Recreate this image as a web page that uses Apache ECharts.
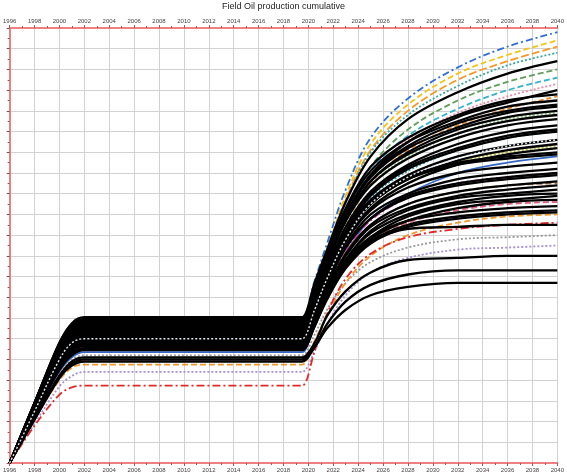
<!DOCTYPE html>
<html>
<head>
<meta charset="utf-8">
<script src="https://cdn.jsdelivr.net/npm/echarts@6/dist/echarts.min.js"></script>
<style>
  html, body { margin: 0; padding: 0; background: #ffffff; }
  #chart { width: 567px; height: 474px; }
</style>
</head>
<body>
<div id="chart"></div>
<script>
// Sample years shared by every realisation curve
const years = [1996, 1998, 2000, 2001, 2002, 2019, 2019.5, 2020.5, 2021.5, 2023, 2025, 2028, 2032, 2036, 2040];

// Coloured realisations (cumulative oil, arbitrary units)
const colouredRuns = [
  [0, 2.9, 5.8, 6.7, 7.0, 7.0, 7.0, 8.8, 10.6, 13.2, 15.7, 17.6, 19.1, 20.1, 20.8],
  [0, 2.9, 5.6, 6.5, 6.8, 6.8, 6.8, 8.6, 10.3, 12.9, 15.4, 17.3, 18.8, 19.7, 20.4],
  [0, 2.8, 5.5, 6.3, 6.6, 6.6, 6.6, 8.4, 10.1, 12.7, 15.1, 17.0, 18.5, 19.4, 20.1],
  [0, 2.8, 5.6, 6.4, 6.7, 6.7, 6.7, 8.4, 10.1, 12.6, 15.0, 16.8, 18.2, 19.2, 19.8],
  [0, 2.6, 5.2, 6.0, 6.3, 6.3, 6.3, 8.0, 9.6, 12.0, 14.3, 16.1, 17.5, 18.4, 19.0],
  [0, 2.7, 5.4, 6.2, 6.5, 6.5, 6.5, 8.0, 9.6, 11.8, 13.9, 15.6, 16.9, 17.7, 18.3],
  [0, 2.6, 5.1, 6.0, 6.2, 6.2, 6.2, 7.7, 9.2, 11.4, 13.5, 15.1, 16.3, 17.1, 17.7],
  [0, 2.5, 5.0, 5.8, 6.0, 6.0, 6.0, 7.6, 9.3, 11.5, 13.4, 14.8, 15.9, 16.6, 16.9],
  [0, 2.5, 4.9, 5.7, 5.9, 5.9, 5.9, 7.4, 8.9, 11.0, 12.8, 14.1, 15.1, 15.7, 16.0],
  [0, 2.3, 4.4, 5.1, 5.35, 5.35, 5.35, 6.8, 8.2, 10.1, 11.8, 13.0, 14.0, 14.5, 14.8],
  [0, 2.4, 4.8, 5.6, 5.8, 5.8, 5.8, 7.2, 8.7, 10.6, 12.3, 13.5, 14.5, 15.0, 15.3],
  [0, 2.4, 4.6, 5.4, 5.6, 5.6, 5.6, 6.7, 7.9, 9.5, 10.7, 11.6, 12.2, 12.5, 12.6],
  [0, 2.2, 4.3, 5.0, 5.2, 5.2, 5.2, 6.2, 7.4, 8.7, 9.7, 10.4, 10.8, 10.9, 11.0],
  [0, 1.9, 3.7, 4.2, 4.4, 4.4, 4.4, 5.4, 6.7, 8.1, 9.2, 9.9, 10.3, 10.4, 10.5],
  [0, 2.1, 4.0, 4.6, 4.75, 4.75, 4.75, 5.9, 7.1, 8.7, 10.0, 11.0, 11.6, 11.9, 12.0],
  [0, 1.8, 3.3, 3.65, 3.74, 3.74, 3.74, 5.4, 7.2, 8.9, 10.1, 10.9, 11.3, 11.5, 11.6],
  [0, 2.6, 5.1, 5.9, 6.1, 6.1, 6.1, 7.3, 8.5, 10.2, 11.5, 12.5, 13.1, 13.4, 13.5],
  [0, 2.3, 4.6, 5.3, 5.5, 5.5, 5.5, 6.9, 8.3, 10.2, 11.7, 12.8, 13.5, 13.8, 14.0],
  [0, 2.7, 5.3, 6.1, 6.4, 6.4, 6.4, 8.0, 9.6, 11.9, 14.1, 15.8, 17.1, 18.0, 18.6]
];

// Line colour and dash pattern of each coloured realisation
const colouredStyles = [
  { color: '#2f6fd6', type: [7, 3, 2, 3] },
  { color: '#f2c418', type: [6, 3] },
  { color: '#f39a2b', type: [8, 3] },
  { color: '#3aa8a0', type: [2, 2] },
  { color: '#5e9e5a', type: [6, 3] },
  { color: '#e58aa8', type: [2, 2] },
  { color: '#e8882e', type: [5, 3] },
  { color: '#8cc07a', type: [2, 2] },
  { color: '#2f98a8', type: [2, 2] },
  { color: '#3566c4', type: 'solid' },
  { color: '#bcbc38', type: [2, 2] },
  { color: '#e0607e', type: [6, 3] },
  { color: '#9a9a9a', type: [2, 2] },
  { color: '#a58fd0', type: [2, 2] },
  { color: '#f0982c', type: [6, 3] },
  { color: '#e02a2a', type: [8, 3, 2, 3] },
  { color: '#a6704a', type: [6, 3] },
  { color: '#c644b4', type: [7, 3, 2, 3] },
  { color: '#34b4cc', type: [6, 3] }
];

// Black realisations
const blackRuns = [
  [0, 2.9, 5.8, 6.75, 7.04, 7.04, 7.04, 8.7, 10.3, 12.6, 14.8, 16.6, 17.9, 18.8, 19.4],
  [0, 2.9, 5.8, 6.7, 6.95, 6.95, 6.95, 8.4, 9.8, 11.9, 13.9, 15.5, 16.7, 17.4, 18.0],
  [0, 2.9, 5.7, 6.6, 6.9, 6.9, 6.9, 8.5, 10.2, 12.3, 14.3, 15.7, 16.8, 17.5, 17.8],
  [0, 2.9, 5.7, 6.6, 6.85, 6.85, 6.85, 8.4, 10.0, 12.2, 14.1, 15.5, 16.5, 17.2, 17.5],
  [0, 2.9, 5.6, 6.5, 6.8, 6.8, 6.8, 8.4, 9.9, 12.0, 13.9, 15.3, 16.4, 17.0, 17.3],
  [0, 2.8, 5.5, 6.3, 6.6, 6.6, 6.6, 8.2, 9.8, 11.9, 13.8, 15.2, 16.2, 16.9, 17.2],
  [0, 2.8, 5.6, 6.4, 6.7, 6.7, 6.7, 8.2, 9.7, 11.7, 13.6, 14.9, 15.9, 16.5, 16.8],
  [0, 2.8, 5.6, 6.5, 6.75, 6.75, 6.75, 8.2, 9.7, 11.7, 13.4, 14.7, 15.7, 16.3, 16.6],
  [0, 2.7, 5.4, 6.2, 6.45, 6.45, 6.45, 7.9, 9.4, 11.4, 13.1, 14.4, 15.4, 16.0, 16.3],
  [0, 2.7, 5.3, 6.1, 6.4, 6.4, 6.4, 7.9, 9.3, 11.2, 13.0, 14.3, 15.2, 15.8, 16.1],
  [0, 2.6, 5.2, 6.0, 6.3, 6.3, 6.3, 7.8, 9.2, 11.1, 12.9, 14.2, 15.1, 15.7, 16.0],
  [0, 2.8, 5.4, 6.3, 6.55, 6.55, 6.55, 7.9, 9.3, 11.1, 12.7, 13.9, 14.8, 15.3, 15.6],
  [0, 2.7, 5.3, 6.1, 6.35, 6.35, 6.35, 7.7, 9.1, 10.9, 12.5, 13.7, 14.6, 15.1, 15.4],
  [0, 2.6, 5.1, 6.0, 6.2, 6.2, 6.2, 7.6, 8.9, 10.7, 12.3, 13.5, 14.4, 14.9, 15.2],
  [0, 2.6, 5.2, 6.0, 6.25, 6.25, 6.25, 7.6, 9.1, 11.1, 12.6, 13.8, 14.5, 14.8, 15.0],
  [0, 2.6, 5.1, 5.9, 6.1, 6.1, 6.1, 7.5, 9.0, 10.9, 12.5, 13.7, 14.4, 14.7, 14.9],
  [0, 2.6, 5.1, 5.9, 6.15, 6.15, 6.15, 7.5, 8.9, 10.7, 12.2, 13.3, 14.0, 14.3, 14.5],
  [0, 2.5, 4.9, 5.7, 5.95, 5.95, 5.95, 7.3, 8.7, 10.5, 12.0, 13.0, 13.7, 14.0, 14.2],
  [0, 2.5, 5.0, 5.8, 6.0, 6.0, 6.0, 7.3, 8.6, 10.4, 11.8, 12.9, 13.5, 13.8, 14.0],
  [0, 2.5, 5.0, 5.8, 6.05, 6.05, 6.05, 7.3, 8.6, 10.4, 11.8, 12.8, 13.4, 13.7, 13.9],
  [0, 2.5, 4.9, 5.6, 5.85, 5.85, 5.85, 7.1, 8.4, 10.1, 11.5, 12.5, 13.1, 13.4, 13.6],
  [0, 2.5, 4.9, 5.7, 5.9, 5.9, 5.9, 7.1, 8.4, 10.0, 11.4, 12.3, 12.9, 13.2, 13.4],
  [0, 2.4, 4.8, 5.5, 5.75, 5.75, 5.75, 6.9, 8.2, 9.8, 11.2, 12.2, 12.8, 13.0, 13.2],
  [0, 2.4, 4.8, 5.6, 5.8, 5.8, 5.8, 7.0, 8.2, 9.8, 11.1, 12.0, 12.6, 12.9, 13.0],
  [0, 2.4, 4.7, 5.4, 5.65, 5.65, 5.65, 6.8, 8.0, 9.6, 10.9, 11.9, 12.5, 12.7, 12.9],
  [0, 2.4, 4.7, 5.5, 5.7, 5.7, 5.7, 6.8, 8.0, 9.5, 10.8, 11.7, 12.3, 12.6, 12.7],
  [0, 2.3, 4.6, 5.3, 5.55, 5.55, 5.55, 6.7, 8.1, 9.7, 10.9, 11.7, 12.1, 12.3, 12.4],
  [0, 2.3, 4.6, 5.3, 5.5, 5.5, 5.5, 6.6, 8.0, 9.5, 10.7, 11.5, 11.9, 12.1, 12.2],
  [0, 2.3, 4.5, 5.2, 5.45, 5.45, 5.45, 6.6, 7.9, 9.4, 10.6, 11.4, 11.8, 12.0, 12.1],
  [0, 2.8, 5.5, 6.4, 6.65, 6.65, 6.65, 7.4, 8.6, 9.8, 10.7, 11.3, 11.4, 11.5, 11.5],
  [0, 2.2, 4.2, 4.9, 5.1, 5.1, 5.1, 5.8, 7.1, 8.3, 9.2, 9.8, 9.9, 10.0, 10.0],
  [0, 2.1, 4.1, 4.7, 4.9, 4.9, 4.9, 5.6, 6.7, 7.8, 8.6, 9.1, 9.3, 9.3, 9.3],
  [0, 2.1, 4.2, 4.8, 5.0, 5.0, 5.0, 5.6, 6.5, 7.4, 8.1, 8.5, 8.7, 8.7, 8.7],
  [0, 2.7, 5.4, 6.2, 6.5, 6.5, 6.5, 8.1, 9.6, 11.7, 13.6, 15.0, 16.1, 16.7, 17.0]
];

// Pale dotted realisation drawn over the black bundle
const paleRun = [0, 2.5, 5.0, 5.8, 6.0, 6.0, 6.0, 7.4, 8.9, 10.8, 12.5, 13.8, 14.7, 15.3, 15.6];

const toPoints = (vals) => vals.map((v, i) => [years[i], v]);

function lineSeries(vals, color, type, width) {
  return {
    type: 'line',
    data: toPoints(vals),
    smooth: 0.35,
    showSymbol: false,
    silent: true,
    lineStyle: { color: color, width: width, type: type }
  };
}

const series = [];
colouredRuns.forEach((run, i) => {
  series.push(lineSeries(run, colouredStyles[i].color, colouredStyles[i].type, 1.8));
});
blackRuns.forEach((run) => {
  series.push(lineSeries(run, '#000000', 'solid', 2.3));
});
series.push(lineSeries(paleRun, '#e4ecf4', [2, 2], 1.4));

const axisRed = '#ee8080';

const yearAxis = (pos, showGrid) => ({
  type: 'value',
  position: pos,
  min: 1996,
  max: 2040,
  interval: 2,
  axisLine: { show: true, onZero: false, lineStyle: { color: axisRed, width: 2 } },
  axisTick: { show: true, length: 3, lineStyle: { color: '#b05050', width: 1 } },
  minorTick: { show: true, splitNumber: 2, length: 2, lineStyle: { color: '#b05050' } },
  axisLabel: {
    show: true, fontSize: 6, color: '#444', margin: 4,
    fontFamily: 'Liberation Sans, Arial, sans-serif',
    formatter: (v) => String(v)
  },
  splitLine: { show: showGrid, lineStyle: { color: '#d2d2d2', width: 1 } }
});

const chart = echarts.init(document.getElementById('chart'), null, { renderer: 'canvas' });
chart.setOption({
  animation: false,
  backgroundColor: '#ffffff',
  title: {
    text: 'Field Oil production cumulative',
    left: 'center',
    top: 0,
    padding: [2, 5, 2, 5],
    textStyle: {
      fontSize: 9, fontWeight: 'normal', color: '#222',
      fontFamily: 'Liberation Sans, Arial, sans-serif'
    }
  },
  grid: { left: 9, right: 5, top: 28, bottom: 11, containLabel: false },
  xAxis: [yearAxis('bottom', true), yearAxis('top', false)],
  yAxis: {
    type: 'value',
    min: 0,
    max: 21,
    interval: 1,
    axisLine: { show: true, lineStyle: { color: axisRed, width: 2 } },
    axisTick: { show: true, length: 3, lineStyle: { color: '#805050' } },
    minorTick: { show: true, splitNumber: 2, length: 2, lineStyle: { color: '#b05050' } },
    axisLabel: { show: false },
    splitLine: { show: true, lineStyle: { color: '#d2d2d2', width: 1 } }
  },
  series: series
});
</script>
</body>
</html>
